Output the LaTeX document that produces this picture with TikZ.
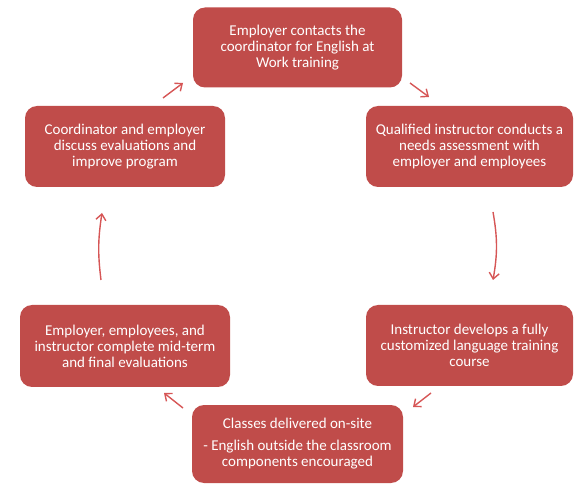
\documentclass[tikz,border=0pt]{standalone}
\usepackage{fontspec}
\setmainfont{Carlito}
\usetikzlibrary{arrows.meta}
\definecolor{boxred}{RGB}{192,76,74}
\definecolor{arrred}{RGB}{214,86,86}
\tikzset{
  stepbox/.style={fill=boxred, draw=none, rounded corners=12pt, text=white,
    align=center, font=\fontsize{15}{16}\selectfont, inner sep=2pt},
  flow/.style={draw=arrred, line width=1.4pt, -{Straight Barb[length=6pt,width=10pt]}}
}
\begin{document}
\begin{tikzpicture}[x=1pt,y=-1pt]
\useasboundingbox (0,0) rectangle (574,484);
\node[stepbox, minimum width=209pt, minimum height=80pt] (top) at (297.5,47.5)
  {Employer contacts the\\coordinator for English at\\Work training};
\node[stepbox, minimum width=207pt, minimum height=81pt] (ru) at (469.5,146.5)
  {Qualified instructor conducts a\\needs assessment with\\employer and employees};
\node[stepbox, minimum width=207pt, minimum height=81pt] (rl) at (469.5,345.5)
  {Instructor develops a fully\\customized language training\\course};
\node[stepbox, minimum width=211pt, minimum height=78pt] (bot) at (297.5,444)
  {Classes delivered on-site\\[6pt]- English outside the classroom\\components encouraged};
\node[stepbox, minimum width=210pt, minimum height=82pt] (ll) at (125,346)
  {Employer, employees, and\\instructor complete mid-term\\and final evaluations};
\node[stepbox, minimum width=200pt, minimum height=81pt] (lu) at (125,146.5)
  {Coordinator and employer\\discuss evaluations and\\improve program};
\coordinate (a1s) at (410,83); \coordinate (a1e) at (429,97);
\coordinate (a2s) at (493,212); \coordinate (a2e) at (493,280);
\coordinate (a3s) at (431,393); \coordinate (a3e) at (413,407);
\coordinate (a4s) at (183,408); \coordinate (a4e) at (164,393);
\coordinate (a5s) at (101,280); \coordinate (a5e) at (102,213);
\coordinate (a6s) at (163,98); \coordinate (a6e) at (183,83);
\draw[flow] (a1s) -- (a1e);
\draw[flow] (a2s) to[bend left=10] (a2e);
\draw[flow] (a3s) -- (a3e);
\draw[flow] (a4s) -- (a4e);
\draw[flow] (a5s) to[bend left=8] (a5e);
\draw[flow] (a6s) -- (a6e);
\end{tikzpicture}
\end{document}
